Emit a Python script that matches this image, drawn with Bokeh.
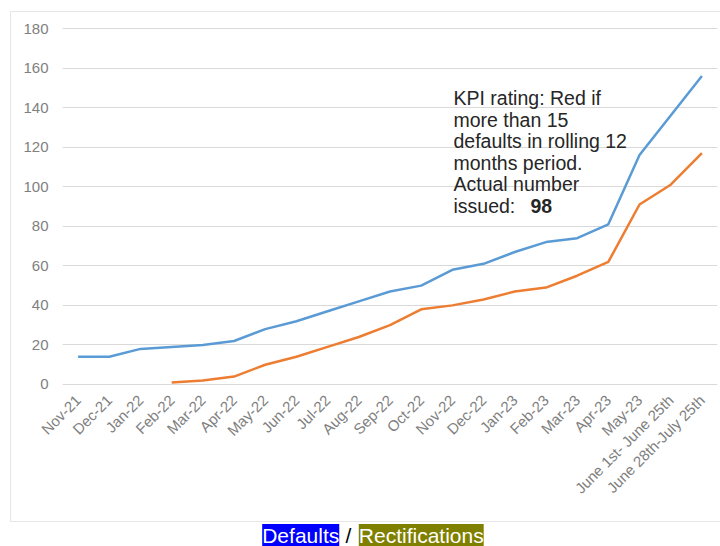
import math
import numpy as np
from bokeh.plotting import figure
from bokeh.layouts import column
from bokeh.models import FactorRange, Range1d, FixedTicker, Label
from bokeh.embed import file_html
from bokeh.resources import INLINE

# ---- data -------------------------------------------------------------
months = ["Nov-21", "Dec-21", "Jan-22", "Feb-22", "Mar-22", "Apr-22", "May-22",
          "Jun-22", "Jul-22", "Aug-22", "Sep-22", "Oct-22", "Nov-22", "Dec-22",
          "Jan-23", "Feb-23", "Mar-23", "Apr-23", "May-23",
          "June 1st- June 25th", "June 28th-July 25th"]
defaults = [14, 14, 18, 19, 20, 22, 28, 32, 37, 42, 47, 50, 58, 61, 67, 72,
            74, 81, 116, 136, 156]
rectifications = [np.nan, np.nan, np.nan, 1, 2, 4, 10, 14, 19, 24, 30, 38,
                  40, 43, 47, 49, 55, 62, 91, 101, 117]
y_ticks = [0, 20, 40, 60, 80, 100, 120, 140, 160, 180]

annotation_lines = ["KPI rating: Red if", "more than 15", "defaults in rolling 12",
                    "months period.", "Actual number", "issued:"]
annotation_value = "98"
legend_items = ["Defaults", "/", "Rectifications"]

FONT = "Liberation Sans"

# ---- chart figure -----------------------------------------------------
p = figure(width=710, height=511, output_backend="svg", toolbar_location=None,
           x_range=FactorRange(factors=months, range_padding=0),
           y_range=Range1d(-2.03, 182.03),
           min_border_left=51, min_border_right=4, min_border_top=12,
           min_border_bottom=135, margin=(11, 0, 0, 10))
p.styles = {"border": "1px solid #e6e6e6", "border-right": "none"}
p.outline_line_color = None
p.background_fill_color = "white"
p.border_fill_color = "white"

p.xgrid.grid_line_color = None
p.ygrid.grid_line_color = "#d9d9d9"
p.ygrid.grid_line_width = 1

p.yaxis.ticker = FixedTicker(ticks=y_ticks)
for ax in (p.xaxis[0], p.yaxis[0]):
    ax.axis_line_color = None
    ax.major_tick_line_color = None
    ax.minor_tick_line_color = None
    ax.major_tick_out = 0
    ax.major_tick_in = 0
    ax.minor_tick_out = 0
    ax.major_label_text_font = FONT
    ax.major_label_text_font_size = "15px"
    ax.major_label_text_color = "#808080"
p.yaxis.major_label_standoff = 14
p.xaxis.major_label_standoff = 9
p.xaxis.major_label_orientation = math.pi / 4

p.line(months, defaults, line_color="#5B9BD5", line_width=2.5)
p.line(months, rectifications, line_color="#ED7D31", line_width=2.5)

# annotation text
base = 290.5
step = 21.6
for i, t in enumerate(annotation_lines):
    p.add_layout(Label(x=391, y=base - i * step, x_units="screen", y_units="screen",
                       text=t, text_font=FONT, text_font_size="19.5px",
                       text_color="#262626", text_baseline="alphabetic"))
p.add_layout(Label(x=468, y=base - 5 * step, x_units="screen", y_units="screen",
                   text=annotation_value, text_font=FONT, text_font_size="19.5px",
                   text_font_style="bold", text_color="#262626",
                   text_baseline="alphabetic"))

# ---- legend strip -----------------------------------------------------
lg = figure(width=720, height=24, output_backend="svg", toolbar_location=None,
            x_range=Range1d(0, 720), y_range=Range1d(0, 24),
            x_axis_type=None, y_axis_type=None, min_border=0)
lg.outline_line_color = None
lg.xgrid.grid_line_color = None
lg.ygrid.grid_line_color = None

off = 51  # frame of the strip is aligned with the chart frame
ly = 11
lg.add_layout(Label(x=261.7 - off, y=ly, x_units="screen", y_units="screen",
                    text=legend_items[0], text_font=FONT, text_font_size="21px",
                    text_color="white", text_baseline="alphabetic",
                    background_fill_color="#0000FF"))
lg.add_layout(Label(x=345 - off, y=ly, x_units="screen", y_units="screen",
                    text=legend_items[1], text_font=FONT, text_font_size="21px",
                    text_color="black", text_baseline="alphabetic"))
lg.add_layout(Label(x=358.3 - off, y=ly, x_units="screen", y_units="screen",
                    text=legend_items[2], text_font=FONT, text_font_size="21px",
                    text_color="white", text_baseline="alphabetic",
                    background_fill_color="#808000"))

layout = column(p, lg, spacing=0)
open("out.html", "w").write(file_html(layout, INLINE))
